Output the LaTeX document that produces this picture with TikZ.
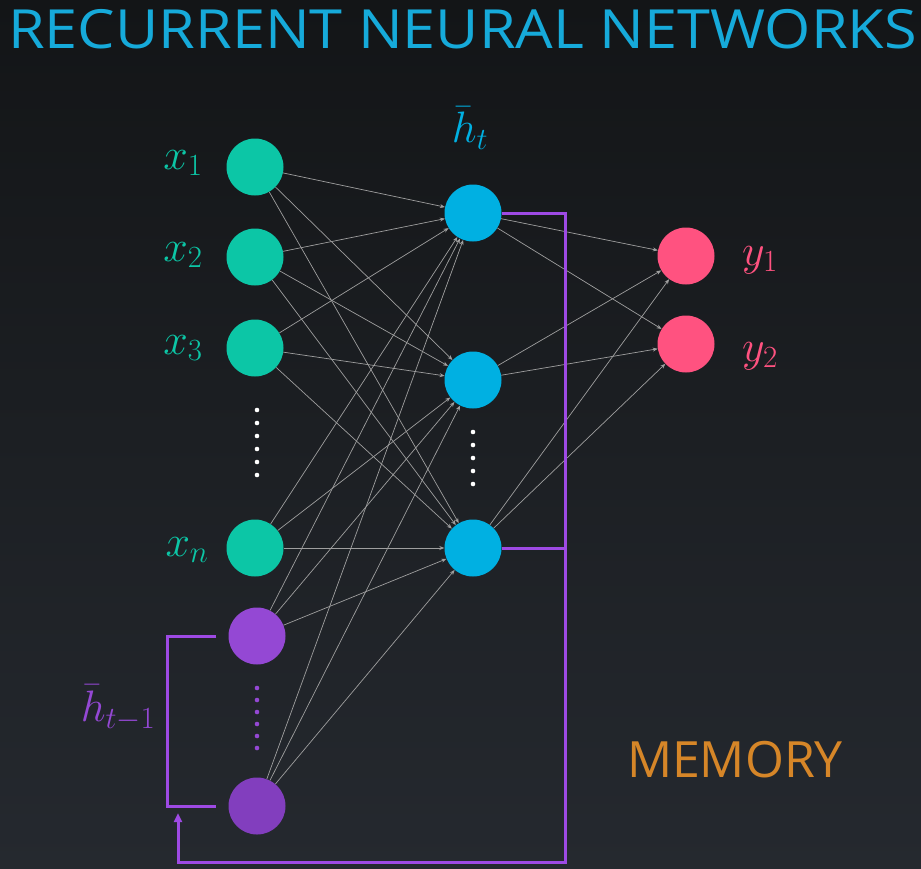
\RequirePackage{fix-cm}
\documentclass[tikz,border=0pt]{standalone}
\usepackage{fontspec}
\setmainfont{Open Sans}
\usepackage{xcolor}
\usepackage{tikz}
\usetikzlibrary{positioning,arrows.meta,calc}

\definecolor{bgtop}{RGB}{19,21,23}
\definecolor{bgbot}{RGB}{37,41,47}
\definecolor{titleblue}{RGB}{22,170,218}
\definecolor{ingreen}{RGB}{12,198,166}
\definecolor{hidblue}{RGB}{0,176,226}
\definecolor{outpink}{RGB}{255,82,128}
\definecolor{mempurple}{RGB}{148,72,212}
\definecolor{memdark}{RGB}{130,62,190}
\definecolor{loopviolet}{RGB}{158,74,228}
\definecolor{memorange}{RGB}{214,134,40}

\begin{document}
\begin{tikzpicture}[
    x=1pt, y=-1pt,
    neuron/.style ={circle, minimum size=57pt, inner sep=0pt},
    inp/.style    ={neuron, fill=ingreen},
    hid/.style    ={neuron, fill=hidblue},
    outp/.style   ={neuron, fill=outpink},
    mem/.style    ={neuron, fill=mempurple},
    conn/.style   ={-{Stealth[length=5pt,width=4pt]}, draw=gray!75, line width=0.7pt},
    loopline/.style={draw=loopviolet, line width=3pt},
    lbl/.style    ={font=\fontsize{44}{48}\selectfont, inner sep=0pt}
]
\useasboundingbox (0,0) rectangle (921,868);
\shade[top color=bgtop, bottom color=bgbot] (0,0) rectangle (921,868);

% --- title ---
\node[anchor=west, inner sep=0pt, text=titleblue, xscale=1.1, transform shape,
      font=\fontsize{54}{60}\selectfont] (title) at (8,29) {RECURRENT NEURAL NETWORKS};

% --- input layer ---
\node[inp] (x1) at (255,167) {};
\node[inp] (x2) at (255,257) {};
\node[inp] (x3) at (255,348) {};
\node[inp] (xn) at (255,548) {};
\foreach \y in {410,423,...,475} \fill[white] (257,\y) circle (2.3pt);

% --- memory units ---
\node[mem] (m1) at (257,636) {};
\node[mem, fill=memdark] (m2) at (257,806) {};
\foreach \y in {688,700,...,750} \fill[mempurple] (257,\y) circle (2.3pt);

% --- hidden layer ---
\node[hid] (h1) at (473,213) {};
\node[hid] (h2) at (473,380) {};
\node[hid] (h3) at (473,548) {};
\foreach \y in {432,445,...,495} \fill[white] (473,\y) circle (2.3pt);

% --- output layer ---
\node[outp] (y1) at (686,256) {};
\node[outp] (y2) at (686,344) {};

% --- labels ---
\node[lbl, text=ingreen] (lx1) at (183,163) {$x_1$};
\node[lbl, text=ingreen] (lx2) at (183,255) {$x_2$};
\node[lbl, text=ingreen] (lx3) at (183,348) {$x_3$};
\node[lbl, text=ingreen] (lxn) at (187,550) {$x_n$};
\node[lbl, text=hidblue] (lht) at (470,128) {$\bar{h}_t$};
\node[lbl, text=outpink] (ly1) at (760,260) {$y_1$};
\node[lbl, text=outpink] (ly2) at (760,356) {$y_2$};
\node[lbl, text=mempurple] (lhm) at (118,708) {$\bar{h}_{t-1}$};
\node[inner sep=0pt, text=memorange, font=\fontsize{50}{56}\selectfont]
    (memory) at (735,760) {MEMORY};

% --- connections ---
\foreach \s in {x1,x2,x3,xn,m1,m2}
  \foreach \t in {h1,h2,h3}
    \draw[conn] (\s) -- (\t);
\foreach \s in {h1,h2,h3}
  \foreach \t in {y1,y2}
    \draw[conn] (\s) -- (\t);

% --- recurrent loop ---
\coordinate (fbr) at (565,862);
\coordinate (fbl) at (178,813);
\draw[loopline, -{Triangle[length=9pt,width=8pt]}] (h1.east) -| (fbr) -| (fbl);
\draw[loopline] (h3.east) -- (h3.east -| fbr);
\draw[loopline] ([xshift=-12pt]m1.west) -- ++(-49,0) |- ([xshift=-12pt]m2.west);

\end{tikzpicture}
\end{document}
